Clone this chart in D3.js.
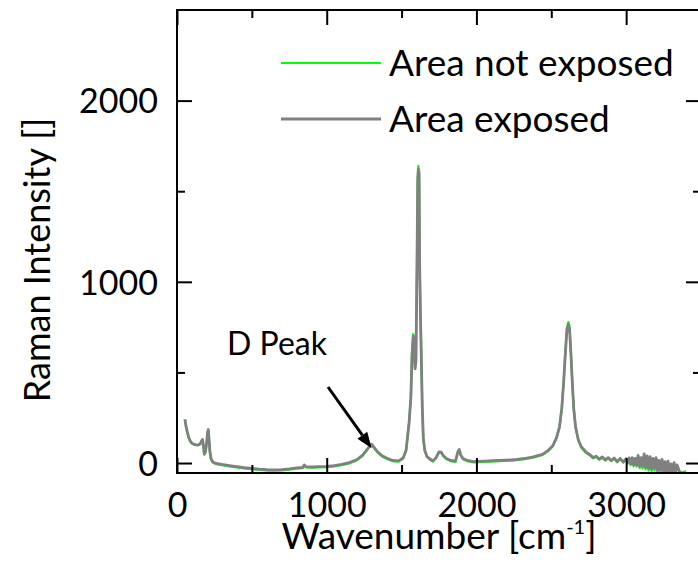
<!DOCTYPE html>
<html>
<head>
<meta charset="utf-8">
<script src="https://cdn.jsdelivr.net/npm/d3@7"></script>
<style>
  html, body { margin: 0; padding: 0; background: #fff; }
  svg { display: block; }
  text { font-family: Lato, "Open Sans", sans-serif; fill: #000; }
</style>
</head>
<body>
<svg id="chart" width="698" height="564"></svg>
<script>
// Raman spectra, wavenumber in cm^-1, intensity in arbitrary units
const wavenumber = [
  53, 60, 70, 80, 90, 100, 120, 140, 155, 165, 170, 176, 182, 190, 198, 204, 209, 214, 220, 228,
  240, 260, 300, 350, 400, 450, 500, 550, 600, 650, 700, 750, 800, 840, 850, 860, 900, 950, 1000, 1050,
  1100, 1150, 1200, 1240, 1270, 1290, 1300, 1315, 1340, 1370, 1400, 1440, 1480, 1510, 1530, 1550, 1562, 1570, 1578, 1584,
  1590, 1596, 1603, 1608, 1612, 1617, 1621, 1626, 1631, 1638, 1645, 1655, 1670, 1690, 1710, 1730, 1750, 1765, 1780, 1800,
  1830, 1860, 1875, 1885, 1895, 1910, 1940, 1980, 2050, 2150, 2250, 2320, 2380, 2440, 2480, 2510, 2535, 2555, 2570, 2583,
  2595, 2605, 2614, 2622, 2630, 2640, 2650, 2662, 2680, 2700, 2730, 2760, 2780, 2800, 2820, 2840, 2860, 2880, 2900, 2920,
  2940, 2960, 2980, 3000, 3010, 3020, 3030, 3040, 3050, 3060, 3070, 3080, 3090, 3100, 3110, 3120, 3130, 3140, 3150, 3160,
  3170, 3180, 3190, 3200, 3210, 3220, 3230, 3240, 3250, 3260, 3270, 3280, 3290, 3300, 3310, 3320, 3330, 3340, 3360, 3380,
  3400
];

const exposed = [
  242, 205, 168, 138, 120, 109, 101, 99, 106, 124, 130, 100, 50, 62, 112, 168, 185, 130, 62, 22,
  6, -2, -8, -14, -20, -26, -30, -34, -37, -38, -36, -32, -27, -24, -10, -20, -22, -20, -19, -14,
  -8, 2, 18, 44, 75, 98, 104, 88, 62, 40, 28, 14, 12, 28, 70, 220, 360, 600, 700, 640,
  520, 560, 1100, 1560, 1622, 1600, 1080, 820, 620, 320, 140, 70, 36, 22, 12, 30, 62, 60, 40, 25,
  14, 10, 60, 75, 45, 25, 14, 8, 10, 14, 18, 25, 34, 48, 70, 95, 140, 200, 300, 450,
  620, 740, 765, 740, 620, 450, 300, 200, 130, 90, 62, 45, 30, 38, 22, 34, 18, 30, 14, 28,
  8, 26, 6, 24, 2, 28, -5, 30, -10, 26, -12, 42, -18, 30, -20, 50, -25, 40, -30, 35,
  -35, 25, -30, 30, -42, 15, -40, 20, -48, 8, -45, 10, -50, -5, -48, 2, -52, -10, -60, -60,
  -60
];

const notExposed = [
  238, 200, 164, 134, 117, 107, 100, 98, 104, 122, 128, 98, 46, 58, 108, 165, 182, 126, 58, 18,
  2, -6, -12, -18, -24, -30, -34, -38, -41, -42, -40, -36, -31, -28, -14, -24, -26, -24, -23, -18,
  -12, -2, 14, 40, 72, 95, 101, 84, 58, 36, 24, 10, 8, 24, 66, 225, 365, 610, 712, 645,
  525, 565, 1110, 1575, 1640, 1612, 1090, 830, 630, 325, 136, 66, 32, 18, 8, 26, 58, 56, 36, 21,
  10, 6, 56, 72, 41, 21, 10, 4, 6, 10, 14, 21, 30, 44, 66, 92, 138, 200, 302, 455,
  628, 750, 778, 752, 628, 455, 302, 198, 126, 86, 58, 41, 26, 34, 18, 30, 14, 26, 10, 24,
  4, 22, 2, 20, -4, 24, -12, 26, -18, 22, -20, 38, -28, 26, -30, 46, -35, 36, -42, 30,
  -45, 20, -42, 26, -52, 10, -50, 16, -55, 4, -52, 6, -56, -8, -54, 0, -56, -12, -48, -50,
  -44
];

const xTicks = [0, 1000, 2000, 3000];
const yTicks = [0, 1000, 2000];
const xMinorTicks = [500, 1500, 2500];
const yMinorTicks = [500, 1500];
const seriesNames = ["Area not exposed", "Area exposed"];
const seriesColors = ["#00ff00", "#808080"];

const svg = d3.select("#chart");
const margin = { left: 177, top: 10, right: 701, bottom: 473 };

const x = d3.scaleLinear().domain([0, 3500]).range([margin.left, margin.right]);
const y = d3.scaleLinear().domain([-55, 2500]).range([margin.bottom, margin.top]);

svg.append("defs").append("clipPath").attr("id", "plot-clip")
  .append("rect")
  .attr("x", margin.left).attr("y", margin.top)
  .attr("width", margin.right - margin.left)
  .attr("height", margin.bottom - margin.top);

const series = [notExposed, exposed];
const line = d3.line().x(d => x(d[0])).y(d => y(d[1]));

const plot = svg.append("g").attr("clip-path", "url(#plot-clip)");
series.forEach((vals, i) => {
  plot.append("path")
    .datum(wavenumber.map((w, j) => [w, vals[j]]))
    .attr("fill", "none")
    .attr("stroke", seriesColors[i])
    .attr("stroke-width", i === 0 ? 2.2 : 2.8)
    .attr("stroke-linejoin", "round")
    .attr("d", line);
});

// frame and inward ticks on all four sides
const major = 15, minor = 8;
const fmt = d3.format("d");
const gB = svg.append("g").attr("transform", `translate(0,${margin.bottom})`)
  .call(d3.axisBottom(x).tickValues(xTicks).tickSize(-major).tickSizeOuter(0).tickFormat(fmt));
svg.append("g").attr("transform", `translate(0,${margin.bottom})`)
  .call(d3.axisBottom(x).tickValues(xMinorTicks).tickSize(-minor).tickSizeOuter(0).tickFormat(""));
svg.append("g").attr("transform", `translate(0,${margin.top})`)
  .call(d3.axisTop(x).tickValues(xTicks).tickSize(-major).tickSizeOuter(0).tickFormat(""));
svg.append("g").attr("transform", `translate(0,${margin.top})`)
  .call(d3.axisTop(x).tickValues(xMinorTicks).tickSize(-minor).tickSizeOuter(0).tickFormat(""));

const gL = svg.append("g").attr("transform", `translate(${margin.left},0)`)
  .call(d3.axisLeft(y).tickValues(yTicks).tickSize(-major).tickSizeOuter(0).tickPadding(major + 4).tickFormat(fmt));
svg.append("g").attr("transform", `translate(${margin.left},0)`)
  .call(d3.axisLeft(y).tickValues(yMinorTicks).tickSize(-minor).tickSizeOuter(0).tickFormat(""));
svg.append("g").attr("transform", `translate(${margin.right},0)`)
  .call(d3.axisRight(y).tickValues(yTicks).tickSize(-major).tickSizeOuter(0).tickFormat(""));
svg.append("g").attr("transform", `translate(${margin.right},0)`)
  .call(d3.axisRight(y).tickValues(yMinorTicks).tickSize(-minor).tickSizeOuter(0).tickFormat(""));

svg.selectAll(".domain").remove();
svg.selectAll(".tick line").attr("stroke", "#000").attr("stroke-width", 2);
svg.append("rect")
  .attr("x", margin.left).attr("y", margin.top)
  .attr("width", margin.right - margin.left).attr("height", margin.bottom - margin.top)
  .attr("fill", "none").attr("stroke", "#000").attr("stroke-width", 2);

svg.selectAll(".tick text").style("font-family", "Lato, sans-serif").style("font-size", "34px").attr("fill", "#000");
gB.selectAll(".tick text").attr("y", 517 - margin.bottom).attr("dy", 0);
gL.selectAll(".tick text").attr("dy", "0.36em");

// axis titles
const xTitle = svg.append("text")
  .attr("x", (margin.left + margin.right) / 2).attr("y", 549)
  .attr("text-anchor", "middle").style("font-size", "37px");
xTitle.append("tspan").text("Wavenumber [cm");
xTitle.append("tspan").text("-1").style("font-size", "20px").attr("dy", "-15");
xTitle.append("tspan").text("]").attr("dy", "15");

svg.append("text")
  .attr("transform", `translate(50,260) rotate(-90)`)
  .attr("text-anchor", "middle").style("font-size", "36px")
  .text("Raman Intensity []");

// legend
const legendY = [63, 119];
seriesNames.forEach((name, i) => {
  svg.append("line")
    .attr("x1", 281).attr("x2", 381)
    .attr("y1", legendY[i]).attr("y2", legendY[i])
    .attr("stroke", seriesColors[i]).attr("stroke-width", i === 0 ? 2 : 2.8);
  svg.append("text")
    .attr("x", 389).attr("y", legendY[i]).attr("dy", "0.36em")
    .style("font-size", "37px").text(name);
});

// D peak annotation
svg.append("text").attr("x", 227).attr("y", 355).style("font-size", "32px").text("D Peak");
const tipX = x(1300), tipY = y(104) + 4;
const tailX = 328, tailY = 387;
const ang = Math.atan2(tipY - tailY, tipX - tailX);
const headLen = 16, headW = 6;
const baseX = tipX - headLen * Math.cos(ang), baseY = tipY - headLen * Math.sin(ang);
svg.append("line")
  .attr("x1", tailX).attr("y1", tailY).attr("x2", baseX).attr("y2", baseY)
  .attr("stroke", "#000").attr("stroke-width", 3);
svg.append("path")
  .attr("d", `M${tipX},${tipY} L${baseX + headW * Math.sin(ang)},${baseY - headW * Math.cos(ang)} L${baseX - headW * Math.sin(ang)},${baseY + headW * Math.cos(ang)} Z`)
  .attr("fill", "#000");
</script>
</body>
</html>
